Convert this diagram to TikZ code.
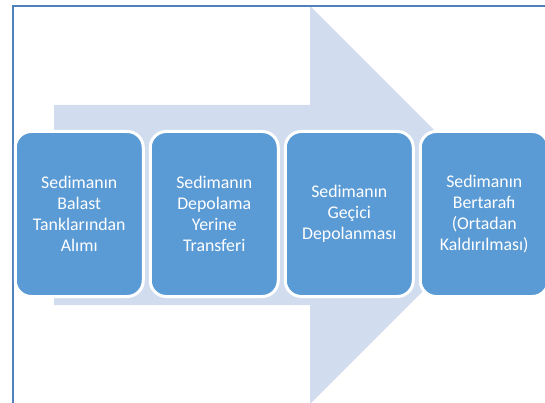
\documentclass[tikz,border=0pt]{standalone}
\usepackage{fontspec}
\setmainfont{Carlito}
\definecolor{boxblue}{RGB}{91,155,213}
\definecolor{arrowblue}{RGB}{209,221,238}
\definecolor{frameblue}{RGB}{79,129,189}
\tikzset{
  stepbox/.style={draw=white, line width=3pt, fill=boxblue, rounded corners=16pt,
    minimum width=128pt, minimum height=165pt, text=white, align=center,
    font=\fontsize{17.8pt}{20.9pt}\selectfont, inner sep=2pt}
}
\begin{document}
\begin{tikzpicture}[x=1pt,y=-1pt]
\useasboundingbox (0,0) rectangle (545,403);
\clip (0,0) rectangle (545,403);
\fill[arrowblue] (54,105) -- (310,105) -- (310,6) -- (509,205) -- (310,404) -- (310,305) -- (54,305) -- cycle;
\draw[frameblue, line width=1.5pt] (13,410) -- (13,6) -- (550,6);
\node[stepbox] (s1) at (79.25,214) {Sedimanın\\Balast\\Tanklarından\\Alımı};
\node[stepbox] (s2) at (214.25,214) {Sedimanın\\Depolama\\Yerine\\Transferi};
\node[stepbox] (s3) at (349.25,214) {Sedimanın\\Geçici\\Depolanması};
\node[stepbox] (s4) at (484.25,214) {Sedimanın\\Bertarafı\\(Ortadan\\Kaldırılması)};
\end{tikzpicture}
\end{document}
